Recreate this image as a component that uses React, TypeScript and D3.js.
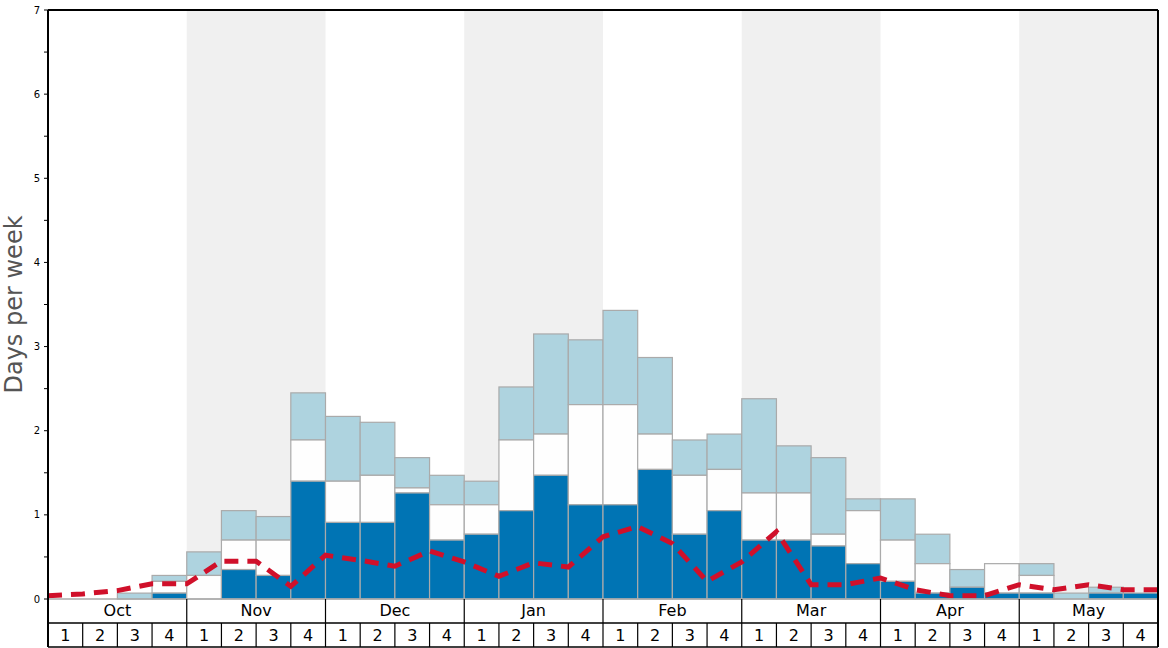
import React from "react";
import * as d3 from "d3";

const months = ["Oct", "Nov", "Dec", "Jan", "Feb", "Mar", "Apr", "May"];
const weekLabels = ["1", "2", "3", "4"];
// stacked layers (days per week)
const darkValues = [0, 0, 0, 0.07, 0, 0.35, 0.28, 1.4, 0.91, 0.91, 1.26, 0.7, 0.77, 1.05, 1.47, 1.12, 1.12, 1.54, 0.77, 1.05, 0.7, 0.7, 0.63, 0.42, 0.21, 0.07, 0.14, 0.07, 0.07, 0, 0.07, 0.07];
const midValues = [0, 0, 0, 0.14, 0.28, 0.35, 0.42, 0.49, 0.49, 0.56, 0.06, 0.42, 0.35, 0.84, 0.49, 1.19, 1.19, 0.42, 0.7, 0.49, 0.56, 0.56, 0.14, 0.63, 0.49, 0.35, 0, 0.35, 0.21, 0, 0, 0];
const topValues = [0, 0, 0.07, 0.07, 0.28, 0.35, 0.28, 0.56, 0.77, 0.63, 0.36, 0.35, 0.28, 0.63, 1.19, 0.77, 1.12, 0.91, 0.42, 0.42, 1.12, 0.56, 0.91, 0.14, 0.49, 0.35, 0.21, 0, 0.14, 0.07, 0.07, 0];
const lineValues = [0.04, 0.06, 0.1, 0.18, 0.18, 0.45, 0.45, 0.15, 0.52, 0.46, 0.39, 0.57, 0.44, 0.27, 0.43, 0.38, 0.74, 0.86, 0.66, 0.21, 0.44, 0.8, 0.17, 0.17, 0.25, 0.11, 0.04, 0.04, 0.17, 0.11, 0.17, 0.11, 0.11];
const yTicks = [0, 1, 2, 3, 4, 5, 6, 7];

const W = 1168;
const H = 648;
const L = 48;
const R = 1158;
const T = 10;
const B = 599;
const ROW1 = 623;
const ROW2 = 647;

export default function App() {
  const nWeeks = months.length * weekLabels.length;
  const x = d3.scaleLinear().domain([0, nWeeks]).range([L, R]);
  const y = d3.scaleLinear().domain([0, 7]).range([B, T]);
  const weeks = d3.range(nWeeks);
  const minorTicks = d3.range(0, 7.01, 0.5);
  const line = d3
    .line<number>()
    .x((_, i) => x(i))
    .y((d) => y(d))
    .curve(d3.curveLinear);

  const layers = weeks.map((i) => {
    const a = darkValues[i];
    const b = a + midValues[i];
    const c = b + topValues[i];
    return { i, a, b, c };
  });

  return (
    <svg width={W} height={H} style={{ position: "absolute", left: 0, top: 0, background: "#fff" }} fontFamily="DejaVu Sans, sans-serif">
      {months.map((m, mi) =>
        mi % 2 === 1 ? (
          <rect key={m} x={x(mi * 4)} y={T} width={x(mi * 4 + 4) - x(mi * 4)} height={B - T} fill="#f0f0f0" />
        ) : null
      )}
      {layers.map((d) => {
        const x0 = x(d.i);
        const w = x(d.i + 1) - x(d.i);
        return (
          <g key={d.i} stroke="#aaaaaa" strokeWidth={1.2}>
            {d.c > d.b && <rect x={x0} y={y(d.c)} width={w} height={y(d.b) - y(d.c)} fill="#aed3df" />}
            {d.b > d.a && <rect x={x0} y={y(d.b)} width={w} height={y(d.a) - y(d.b)} fill="#fefefe" />}
            {d.a > 0 && <rect x={x0} y={y(d.a)} width={w} height={y(0) - y(d.a)} fill="#0074b4" />}
          </g>
        );
      })}
      <path d={line(lineValues) || ""} fill="none" stroke="#d0102a" strokeWidth={5} strokeDasharray="14,9" />
      {/* x axis line */}
      <line x1={L} x2={R} y1={B} y2={B} stroke="#aaaaaa" strokeWidth={1.5} />
      {/* bottom rows */}
      <line x1={L} x2={R} y1={ROW1} y2={ROW1} stroke="#000" strokeWidth={1.5} />
      <line x1={L} x2={R} y1={ROW2} y2={ROW2} stroke="#000" strokeWidth={1.5} />
      {months.map((m, mi) => (
        <g key={m}>
          <line x1={x(mi * 4)} x2={x(mi * 4)} y1={B} y2={ROW1} stroke="#000" strokeWidth={1.2} />
          <text x={(x(mi * 4) + x(mi * 4 + 4)) / 2} y={616} textAnchor="middle" fontSize={16} fill="#000">
            {m}
          </text>
        </g>
      ))}
      {weeks.map((i) => (
        <g key={i}>
          <line x1={x(i)} x2={x(i)} y1={ROW1} y2={ROW2} stroke="#000" strokeWidth={1.2} />
          <text x={(x(i) + x(i + 1)) / 2} y={641} textAnchor="middle" fontSize={16} fill="#000">
            {weekLabels[i % 4]}
          </text>
        </g>
      ))}
      {/* frame */}
      <line x1={L} x2={R} y1={T} y2={T} stroke="#000" strokeWidth={2} />
      <line x1={L} x2={L} y1={T} y2={ROW2} stroke="#000" strokeWidth={2} />
      <line x1={R} x2={R} y1={T} y2={ROW2} stroke="#000" strokeWidth={2} />
      {/* y ticks */}
      {minorTicks.map((t) => (
        <line key={t} x1={L - 4} x2={L} y1={y(t)} y2={y(t)} stroke="#000" strokeWidth={1} />
      ))}
      {yTicks.map((t) => (
        <text key={t} x={L - 8} y={y(t) + 3.5} textAnchor="end" fontSize={10} fill="#000">
          {t}
        </text>
      ))}
      <text transform={`translate(21.5,${(T + B) / 2}) rotate(-90)`} textAnchor="middle" fontSize={24} fill="#555">
        Days per week
      </text>
    </svg>
  );
}
